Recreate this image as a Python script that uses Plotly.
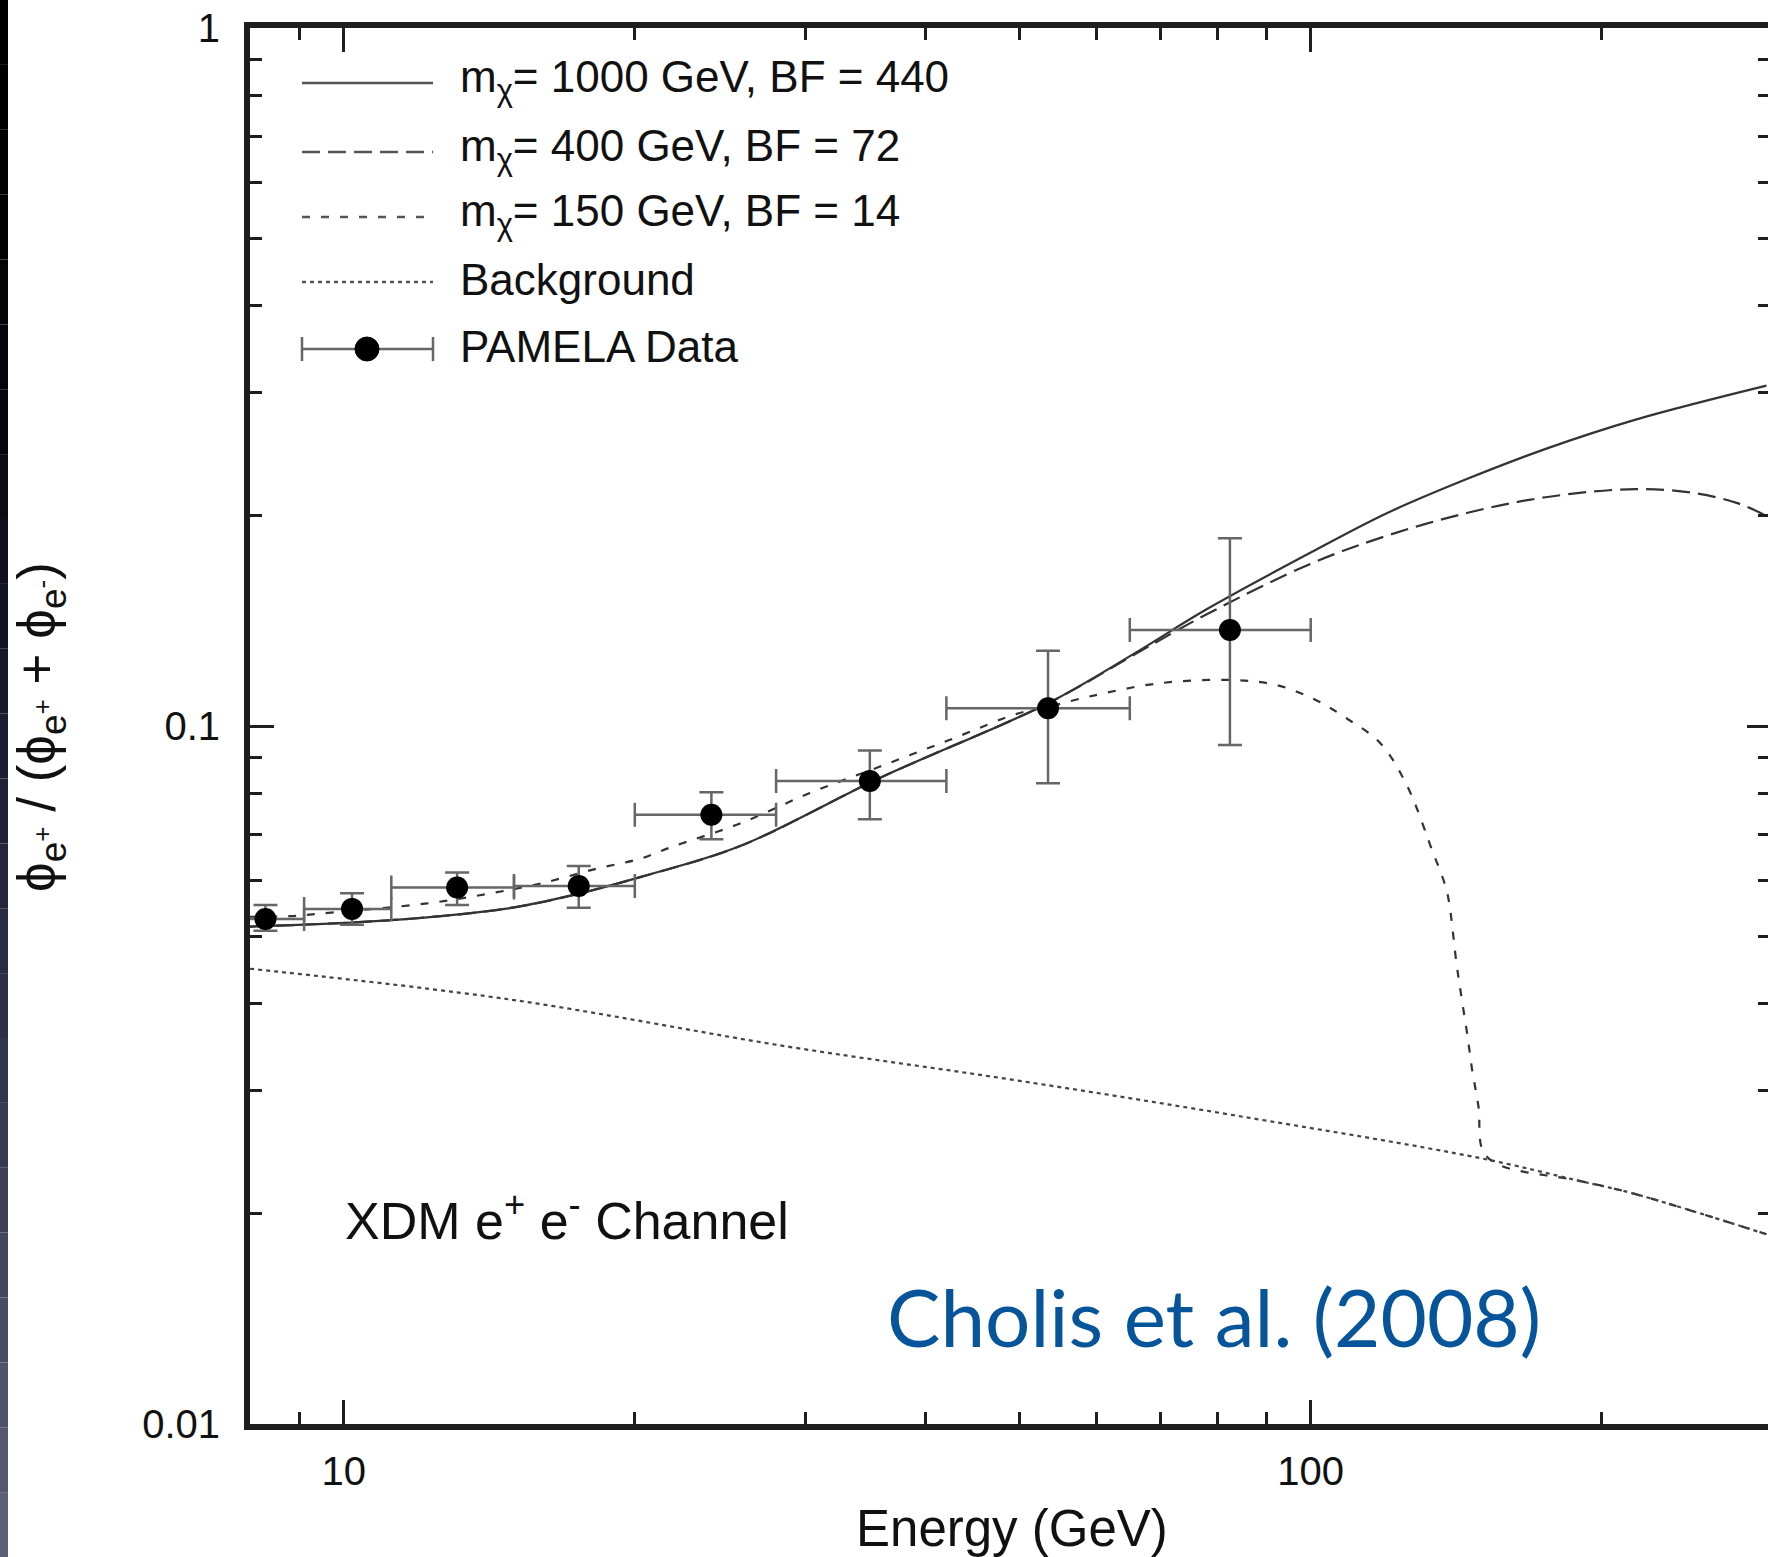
import math
import plotly.graph_objects as go

# PAMELA positron fraction
pamela_e = [8.3, 10.2, 13.1, 17.5, 24.0, 35.0, 53.5, 82.5]
pamela_frac = [0.0529, 0.0547, 0.0587, 0.0590, 0.0746, 0.0834, 0.1060, 0.1373]
pamela_hi = [0.0554, 0.0576, 0.0617, 0.0630, 0.0804, 0.0922, 0.1282, 0.1857]
pamela_lo = [0.0509, 0.0519, 0.0554, 0.0549, 0.0688, 0.0735, 0.0828, 0.0939]
bin_lo = [7.4, 9.1, 11.2, 15.0, 20.0, 28.0, 42.0, 65.0]
bin_hi = [9.1, 11.2, 15.0, 20.0, 28.0, 42.0, 65.0, 100.0]

# m_chi = 1000 GeV, BF = 440
e_1000 = [8.0, 11.2, 14.8, 17.3, 20.3, 25.7, 35.8, 53.5, 66.0, 77.8, 100.0, 120.0,
          145.0, 175.0, 216.8, 296.0]
f_1000 = [0.0516, 0.0527, 0.0548, 0.0573, 0.0608, 0.0673, 0.0842, 0.1078, 0.1275,
          0.1466, 0.1772, 0.2019, 0.2258, 0.2495, 0.2748, 0.3074]

# m_chi = 400 GeV, BF = 72
e_400 = [8.0, 11.2, 14.8, 17.3, 20.3, 25.7, 35.8, 53.5, 66.0, 77.8, 100.0, 120.0,
         145.0, 175.0, 216.8, 250.0, 276.7, 296.0]
f_400 = [0.0516, 0.0527, 0.0548, 0.0573, 0.0608, 0.0673, 0.0842, 0.1078, 0.1270,
         0.1442, 0.1708, 0.1874, 0.2019, 0.2127, 0.2185, 0.2155, 0.2084, 0.2000]

# m_chi = 150 GeV, BF = 14
e_150 = [8.0, 8.8, 9.5, 12.2, 14.2, 16.0, 18.3, 20.3, 21.9, 25.7, 30.3, 35.8, 42.3,
         49.9, 53.5, 59.0, 69.6, 82.2, 91.8, 100.5, 109.0, 118.1, 125.9,
         134.0, 136.3, 138.2, 139.3, 141.5, 143.3, 145.2, 146.9, 149.1, 150.7,
         156.7, 189.6, 215.3, 296.0]
f_150 = [0.0533, 0.0534, 0.0539, 0.0557, 0.0576, 0.0595, 0.0625, 0.0646, 0.0672,
         0.0725, 0.0801, 0.0874, 0.0955, 0.1043, 0.1065, 0.1102, 0.1151, 0.1164,
         0.1146, 0.1095, 0.1025, 0.0944, 0.0819, 0.0655, 0.0617, 0.0582,
         0.0549, 0.0457, 0.0406, 0.0361, 0.0321, 0.0285, 0.0246, 0.0235, 0.0223,
         0.0214, 0.0187]

# Background
e_bg = [8.0, 14.8, 28.9, 49.4, 84.5, 149.5, 189.6, 215.3, 296.0]
f_bg = [0.0449, 0.0406, 0.0347, 0.0311, 0.0276, 0.02405, 0.0223, 0.0214, 0.0187]

x_ticks = [10, 100]
y_ticks = [0.01, 0.1, 1]
x_minor = [8, 9, 20, 30, 40, 50, 60, 70, 80, 90, 200, 300]
y_minor = [0.02, 0.03, 0.04, 0.05, 0.06, 0.07, 0.08, 0.09,
           0.2, 0.3, 0.4, 0.5, 0.6, 0.7, 0.8, 0.9]

legend_items = [
    ("m<sub>χ</sub>= 1000 GeV, BF = 440", "solid"),
    ("m<sub>χ</sub>= 400 GeV, BF = 72", "18px,8px"),
    ("m<sub>χ</sub>= 150 GeV, BF = 14", "8px,11px"),
    ("Background", "4px,4px"),
    ("PAMELA Data", None),
]

W, H = 1768, 1557
L, R, T, B = 250, 1768, 28, 1424
DECADE = 967.0
FONT = "Liberation Sans"
INK = "#111111"
LINE = "#333333"


def px(x, y):
    """Pixel position -> paper coordinates."""
    return (x - L) / (R - L), (B - y) / (B - T)


fig = go.Figure()

curves = [
    (e_1000, f_1000, "solid"),
    (e_400, f_400, "18px,8px"),
    (e_150, f_150, "8px,11px"),
]
for xs, ys, dash in curves:
    fig.add_trace(go.Scatter(
        x=xs, y=ys, mode="lines",
        line=dict(color=LINE, width=2.2, dash=dash, shape="spline", smoothing=1.0),
        showlegend=False, hoverinfo="skip",
    ))

fig.add_trace(go.Scatter(
    x=e_bg, y=f_bg, mode="lines", yaxis="y2",
    line=dict(color="#444444", width=2.2, dash="4px,4px", shape="spline", smoothing=1.0),
    showlegend=False, hoverinfo="skip",
))

fig.add_trace(go.Scatter(
    x=pamela_e, y=pamela_frac, mode="markers",
    marker=dict(color="black", size=22),
    error_x=dict(type="data", symmetric=False,
                 array=[h - e for h, e in zip(bin_hi, pamela_e)],
                 arrayminus=[e - l for l, e in zip(bin_lo, pamela_e)],
                 color="#666666", thickness=2.5, width=12),
    error_y=dict(type="data", symmetric=False,
                 array=[h - f for h, f in zip(pamela_hi, pamela_frac)],
                 arrayminus=[f - l for l, f in zip(pamela_lo, pamela_frac)],
                 color="#666666", thickness=2.5, width=12),
    showlegend=False,
))

# hand-drawn legend (long sample lines like the original)
shapes = []
annotations = []
row_y = [83, 152, 217, 282, 349]
lx0, lx1 = 302, 433
for (label, dash), ry in zip(legend_items, row_y):
    x0, y0 = px(lx0, ry)
    x1, _ = px(lx1, ry)
    if dash is not None:
        shapes.append(dict(type="line", xref="paper", yref="paper",
                           x0=x0, x1=x1, y0=y0, y1=y0,
                           line=dict(color="#555555", width=2.5, dash=dash)))
    else:
        shapes.append(dict(type="line", xref="paper", yref="paper",
                           x0=x0, x1=x1, y0=y0, y1=y0,
                           line=dict(color="#666666", width=2.5)))
        for cx in (lx0, lx1):
            cxp, cy0 = px(cx, ry - 12)
            _, cy1 = px(cx, ry + 12)
            shapes.append(dict(type="line", xref="paper", yref="paper",
                               x0=cxp, x1=cxp, y0=cy0, y1=cy1,
                               line=dict(color="#666666", width=2.5)))
        ca, cb = px(367 - 12, ry - 12)
        cc, cd = px(367 + 12, ry + 12)
        shapes.append(dict(type="circle", xref="paper", yref="paper",
                           x0=ca, x1=cc, y0=cd, y1=cb,
                           fillcolor="black", line=dict(color="black", width=1)))
    tx, ty = px(458, ry - 3)
    annotations.append(dict(xref="paper", yref="paper", x=tx, y=ty, text=label,
                            showarrow=False, xanchor="left", yanchor="middle",
                            font=dict(family=FONT, size=44, color=INK)))

# dark strip at the left edge of the slide
strip_stops = [(0, (0, 0, 0)), (400, (5, 5, 13)), (750, (28, 29, 51)),
               (1100, (52, 54, 76)), (1557, (96, 97, 122))]
n_seg = 24
for i in range(n_seg):
    ya, yb = H * i / n_seg, H * (i + 1) / n_seg
    ym = (ya + yb) / 2
    for (p0, c0), (p1, c1) in zip(strip_stops[:-1], strip_stops[1:]):
        if p0 <= ym <= p1:
            t = (ym - p0) / (p1 - p0)
            col = tuple(round(a + (b - a) * t) for a, b in zip(c0, c1))
            break
    xa, ya_p = px(0, ya)
    xb, yb_p = px(8, yb)
    shapes.append(dict(type="rect", xref="paper", yref="paper",
                       x0=xa, x1=xb, y0=yb_p, y1=ya_p, layer="above",
                       fillcolor="rgb(%d,%d,%d)" % col, line=dict(width=0)))

# axis titles and captions
ax, ay = px(40, 727)
annotations.append(dict(
    xref="paper", yref="paper", x=ax, y=ay, textangle=-90, showarrow=False,
    xanchor="center", yanchor="middle",
    text="ϕ<sub>e<sup>+</sup></sub> / (ϕ<sub>e<sup>+</sup></sub> + ϕ<sub>e<sup>-</sup></sub>)",
    font=dict(family="Liberation Sans, DejaVu Sans", size=53, color=INK)))
ex, ey = px(1012, 1528)
annotations.append(dict(xref="paper", yref="paper", x=ex, y=ey, text="Energy (GeV)",
                        showarrow=False, xanchor="center", yanchor="middle",
                        font=dict(family=FONT, size=51, color=INK)))
cx_, cy_ = px(343, 1217)
annotations.append(dict(xref="paper", yref="paper", x=cx_, y=cy_,
                        text="XDM e<sup>+</sup> e<sup>-</sup> Channel",
                        showarrow=False, xanchor="left", yanchor="middle",
                        font=dict(family=FONT, size=52, color=INK)))
hx, hy = px(1214, 1316)
annotations.append(dict(xref="paper", yref="paper", x=hx, y=hy,
                        text="Cholis et al. (2008)", showarrow=False,
                        xanchor="center", yanchor="middle",
                        font=dict(family="Lato", size=80, color="#06559a")))

axis_line = dict(showline=True, linewidth=6, linecolor="#1e1e1e",
                 showgrid=False, zeroline=False, ticks="inside",
                 tickwidth=3, tickcolor="#1e1e1e",
                 tickfont=dict(family=FONT, size=40, color=INK))

x_lo = math.log10(8)
fig.update_layout(
    width=W, height=H,
    margin=dict(l=L, r=W - R, t=T, b=H - B, autoexpand=False),
    plot_bgcolor="white", paper_bgcolor="white",
    showlegend=False,
    xaxis=dict(type="log", range=[x_lo, x_lo + (R - L) / DECADE],
               tickvals=x_ticks, ticktext=[str(v) for v in x_ticks],
               ticklen=24, mirror="ticks", ticklabelstandoff=7,
               minor=dict(tickvals=x_minor, ticks="inside", ticklen=12,
                          tickwidth=3, tickcolor="#1e1e1e", showgrid=False),
               **axis_line),
    yaxis=dict(type="log", range=[-2, 0],
               tickvals=y_ticks, ticktext=["0.01", "0.1", "1"],
               ticklen=24, ticklabelstandoff=16,
               minor=dict(tickvals=y_minor, ticks="inside", ticklen=12,
                          tickwidth=3, tickcolor="#1e1e1e", showgrid=False),
               **axis_line),
    yaxis2=dict(type="log", range=[-2, 0], overlaying="y", side="right",
                showline=False, showgrid=False, zeroline=False,
                ticks="inside", ticklen=21, tickwidth=3, tickcolor="#1e1e1e",
                tickvals=y_ticks, showticklabels=False,
                minor=dict(tickvals=y_minor, ticks="inside", ticklen=10,
                           tickwidth=3, tickcolor="#1e1e1e", showgrid=False)),
    shapes=shapes,
    annotations=annotations,
)

# the page body has a default 8px margin; drop it so the figure fills the window
fig.write_html(
    "out.html",
    config={"displayModeBar": False},
    post_script="document.body.style.margin='0';"
                "document.documentElement.style.overflow='hidden';",
)
